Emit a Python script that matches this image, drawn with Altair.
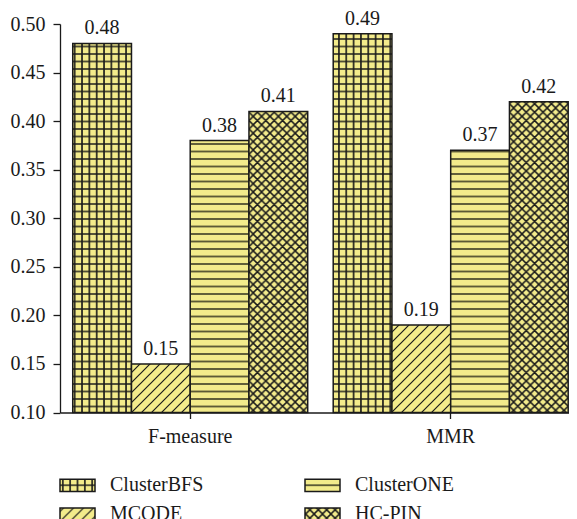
import altair as alt
import pandas as pd
import jinja2

groups = ["F-measure", "MMR"]
methods = ["ClusterBFS", "MCODE", "ClusterONE", "HC-PIN"]
f_measure = [0.48, 0.15, 0.38, 0.41]
mmr = [0.49, 0.19, 0.37, 0.42]
patterns = ["url(#pgrid)", "url(#pdiag)", "url(#phorz)", "url(#pcross)"]
y_ticks = [0.10, 0.125, 0.15, 0.175, 0.20, 0.225, 0.25, 0.275, 0.30, 0.325,
           0.35, 0.375, 0.40, 0.425, 0.45, 0.475, 0.50]

rows = []
for g, vals in zip(groups, [f_measure, mmr]):
    for m, v in zip(methods, vals):
        rows.append({"group": g, "method": m, "value": v})
df = pd.DataFrame(rows)

FONT = "Liberation Serif"
INK = "#1a1a1a"

x_enc = alt.X("group:N", sort=groups,
              scale=alt.Scale(paddingInner=0.0979, paddingOuter=0.026, align=0.94),
              axis=alt.Axis(title=None, labelAngle=0, labelFontSize=20, labelColor=INK,
                            labelPadding=8, tickSize=6, tickColor=INK, tickWidth=1.3,
                            domainColor=INK, domainWidth=1.3, labelFont=FONT))
xoff = alt.XOffset("method:N", sort=methods, scale=alt.Scale(paddingInner=0, paddingOuter=0))
y_scale = alt.Scale(domain=[0.1, 0.5], zero=False, nice=False)

bars = alt.Chart(df).mark_bar(stroke=INK, strokeWidth=1.5).encode(
    x=x_enc,
    xOffset=xoff,
    y=alt.Y("value:Q", scale=y_scale,
            axis=alt.Axis(title=None, values=y_ticks, grid=False,
                          labelExpr="round(datum.value*1000) % 50 == 0 ? format(datum.value, '.2f') : ''",
                          tickSize={"condition": {"test": "round(datum.value*1000) % 50 != 0", "value": 4}, "value": 7},
                          labelFontSize=20, labelColor=INK, labelFont=FONT, labelPadding=8,
                          tickColor=INK, tickWidth=1.3, domainColor=INK, domainWidth=1.3)),
    y2=alt.datum(0.1),
    fill=alt.Fill("method:N",
                  scale=alt.Scale(domain=methods, range=patterns),
                  legend=alt.Legend(title=None, orient="none", legendX=-1, legendY=442.5,
                                    columns=2, columnPadding=98, padding=0,
                                    rowPadding=-4.5, symbolType="M-1,-0.35L1,-0.35L1,0.35L-1,0.35Z",
                                    symbolSize=1225, symbolStrokeColor=INK, symbolStrokeWidth=1.5,
                                    labelFontSize=20, labelFont=FONT, labelColor=INK,
                                    labelOffset=14)),
)

labels = alt.Chart(df).mark_text(baseline="alphabetic", dy=-9, fontSize=20, font=FONT,
                                  color=INK).encode(
    x=alt.X("group:N", sort=groups),
    xOffset=xoff,
    y=alt.Y("value:Q", scale=y_scale),
    text=alt.Text("value:Q", format=".2f"),
)

chart = (bars + labels).properties(
    width=509, height=388.5,
    autosize=alt.AutoSizeParams(type="none"),
    padding={"left": 52, "top": 16, "right": 0, "bottom": 106.5},
).configure(font=FONT).configure_view(strokeWidth=0)

TEMPLATE = jinja2.Template("""<!DOCTYPE html>
<html>
<head>
  <style>
    #{{ output_div }}.vega-embed { width: 100%; display: flex; }
  </style>
  <script type="text/javascript" src="{{ base_url }}/vega@{{ vega_version }}"></script>
  <script type="text/javascript" src="{{ base_url }}/vega-lite@{{ vegalite_version }}"></script>
  <script type="text/javascript" src="{{ base_url }}/vega-embed@{{ vegaembed_version }}"></script>
</head>
<body>
  <svg width="0" height="0" style="position:absolute">
    <defs>
      <pattern id="pgrid" patternUnits="userSpaceOnUse" width="7.34" height="7.5">
        <rect width="7.34" height="7.5" fill="#F3EB8B"/>
        <path d="M0,0V7.5M7.34,0V7.5M0,0H7.34M0,7.5H7.34" stroke="#1a1a1a" stroke-width="1.6" fill="none"/>
      </pattern>
      <pattern id="phorz" patternUnits="userSpaceOnUse" width="10" height="7.5">
        <rect width="10" height="7.5" fill="#F3EB8B"/>
        <path d="M0,0H10M0,7.5H10" stroke="#2a2a1a" stroke-width="1.5" fill="none"/>
      </pattern>
      <pattern id="pdiag" patternUnits="userSpaceOnUse" width="10" height="10">
        <rect width="10" height="10" fill="#F3EB8B"/>
        <path d="M-3,3L3,-3M0,10L10,0M7,13L13,7" stroke="#1a1a1a" stroke-width="1.2" fill="none"/>
      </pattern>
      <pattern id="pcross" patternUnits="userSpaceOnUse" width="8.4" height="8.4">
        <rect width="8.4" height="8.4" fill="#F3EB8B"/>
        <path d="M0,0L8.4,8.4M8.4,0L0,8.4M-2,6.4L2,10.4M6.4,-2L10.4,2M-2,2L2,-2M6.4,10.4L10.4,6.4" stroke="#1a1a1a" stroke-width="1.5" fill="none"/>
      </pattern>
    </defs>
  </svg>
  <div id="{{ output_div }}"></div>
  <script>
    (function(vegaEmbed) {
      var spec = {{ spec }};
      var embedOpt = {{ embed_options }};
      var el = document.getElementById('{{ output_div }}');
      vegaEmbed("#{{ output_div }}", spec, embedOpt).catch(function(error) {
        el.innerHTML = '<div style="color:red;"><p>JavaScript Error: ' + error.message + '</p></div>';
      });
    })(vegaEmbed);
  </script>
</body>
</html>
""")

chart.save("out.html", embed_options={"renderer": "svg", "actions": False}, template=TEMPLATE)
